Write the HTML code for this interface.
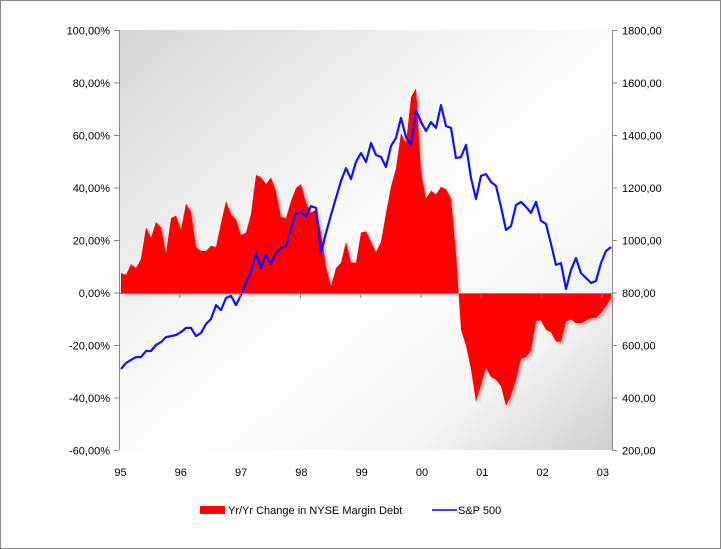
<!DOCTYPE html>
<html><head><meta charset="utf-8"><style>
html,body{margin:0;padding:0;background:#fff}
svg{display:block;font-family:"Liberation Sans",sans-serif}
</style></head><body>
<svg id="chart" width="721" height="549" viewBox="0 0 721 549">
<defs>
<linearGradient id="bg" x1="0" y1="0" x2="1" y2="1">
<stop offset="0" stop-color="#d6d6d6"/><stop offset="0.4" stop-color="#f6f6f6"/><stop offset="0.55" stop-color="#ffffff"/><stop offset="0.8" stop-color="#f4f4f4"/><stop offset="1" stop-color="#cfcfcf"/>
</linearGradient>
<filter id="sh" x="-5%" y="-5%" width="110%" height="110%"><feDropShadow dx="2" dy="2" stdDeviation="1.5" flood-color="#000" flood-opacity="0.3"/></filter>
</defs>
<rect x="0.5" y="0.5" width="720" height="548" fill="#fff" stroke="#888"/>
<rect x="119" y="30" width="493" height="420" fill="url(#bg)"/>
<g id="marks"></g>
<g id="axes"></g>
<g>
<rect x="200" y="506" width="25" height="8" fill="#ff0000"/>
<text x="228" y="514" font-size="11" fill="#000">Yr/Yr Change in NYSE Margin Debt</text>
<line x1="432" y1="510" x2="457" y2="510" stroke="#0000ff" stroke-width="1.5"/>
<text x="458" y="514" font-size="11" fill="#000">S&amp;P 500</text>
</g>
</svg>
<script>
const margin = [7.6,6.9,11,9.5,13,25,21,27,25,15,28.5,29.5,24,34,31,17.5,16,16,18,17.5,26.5,35,30,28,22,23,30,45,44,41.5,44,38.5,29,28.5,35,40,41.5,34.5,30.5,32,23,10,2.5,9.5,11.5,19.5,11.5,11.5,23,23.5,19.5,15.5,19.5,30.5,40.5,47.5,61,57,74.5,78,46,36,39,37.5,40.5,39.5,36,15,-14,-20,-29,-41.5,-35,-28.5,-32,-33,-35.5,-43,-39,-33,-25,-24.5,-22,-10.5,-10.5,-14,-15,-18.5,-18.5,-11,-10,-11.5,-11.5,-10.5,-9.5,-9.5,-7.5,-5,-2];
const sp500 = [510,533,545,556,556,579,579,602,613,632,636,640,651,667,667,636,648,682,701,754,735,781,789,754,792,838,880,952,895,945,910,952,971,979,1048,1101,1109,1090,1131,1124,952,1029,1097,1162,1227,1276,1234,1300,1333,1299,1371,1326,1318,1280,1360,1391,1467,1394,1364,1497,1452,1417,1451,1429,1516,1436,1429,1314,1318,1364,1238,1158,1246,1253,1223,1208,1128,1040,1055,1135,1147,1128,1105,1147,1075,1063,987,907,914,815,888,933,876,857,838,846,914,960,975];
const yearLabels = ["95","96","97","98","99","00","01","02","03"];
const leftTicks = [100,80,60,40,20,0,-20,-40,-60];
const rightTicks = [1800,1600,1400,1200,1000,800,600,400,200];

const NS="http://www.w3.org/2000/svg";
const X0=121, STEP=5.0;
const xM = m => X0 + m*STEP;
const yL = v => 293 - v*2.625;
const yR = v => 293 - (v-800)*52.5/200;
const xYear = i => 119.5 + i*60.3;
function mk(tag, attrs, parent){const e=document.createElementNS(NS,tag);for(const k in attrs)e.setAttribute(k,attrs[k]);parent.appendChild(e);return e;}
const marks=document.getElementById('marks'), axes=document.getElementById('axes');

let d = "M"+xM(0)+","+yL(0);
margin.forEach((v,i)=>{d+=" L"+xM(i).toFixed(1)+","+yL(v).toFixed(1);});
d += " L"+xM(margin.length-1)+","+yL(0)+" Z";
const area = mk('path',{d:d,fill:'#ff0000',filter:'url(#sh)'},marks);



const pts = sp500.map((v,i)=>xM(i).toFixed(1)+","+yR(v).toFixed(1)).join(" ");
const line = mk('polyline',{points:pts,fill:'none',stroke:'#1010ff','stroke-width':2.2,'stroke-linejoin':'round'},marks);



mk('line',{x1:119.5,y1:30,x2:119.5,y2:450,stroke:'#888'},axes);
mk('line',{x1:612.5,y1:30,x2:612.5,y2:450,stroke:'#888'},axes);
mk('line',{x1:119,y1:293.5,x2:612,y2:293.5,stroke:'#888'},axes);
leftTicks.forEach(v=>{
  const y=yL(v);
  mk('line',{x1:114,y1:y,x2:119,y2:y,stroke:'#888'},axes);
  const t=mk('text',{x:110,y:y+4,'text-anchor':'end','font-size':11,fill:'#000'},axes);
  t.textContent=v.toFixed(2).replace('.',',')+'%';
  
  
});
rightTicks.forEach(v=>{
  const y=yR(v);
  mk('line',{x1:612,y1:y,x2:617,y2:y,stroke:'#888'},axes);
  const t=mk('text',{x:622,y:y+4,'font-size':11,fill:'#000'},axes);
  t.textContent=v.toFixed(2).replace('.',',');
  
  
});
yearLabels.forEach((lab,i)=>{
  const x=xYear(i);
  mk('line',{x1:x,y1:293,x2:x,y2:298,stroke:'#888'},axes);
  const t=mk('text',{x:x+1,y:476,'text-anchor':'middle','font-size':11,fill:'#000'},axes);
  t.textContent=lab;
  
  
});
</script>
</body></html>
